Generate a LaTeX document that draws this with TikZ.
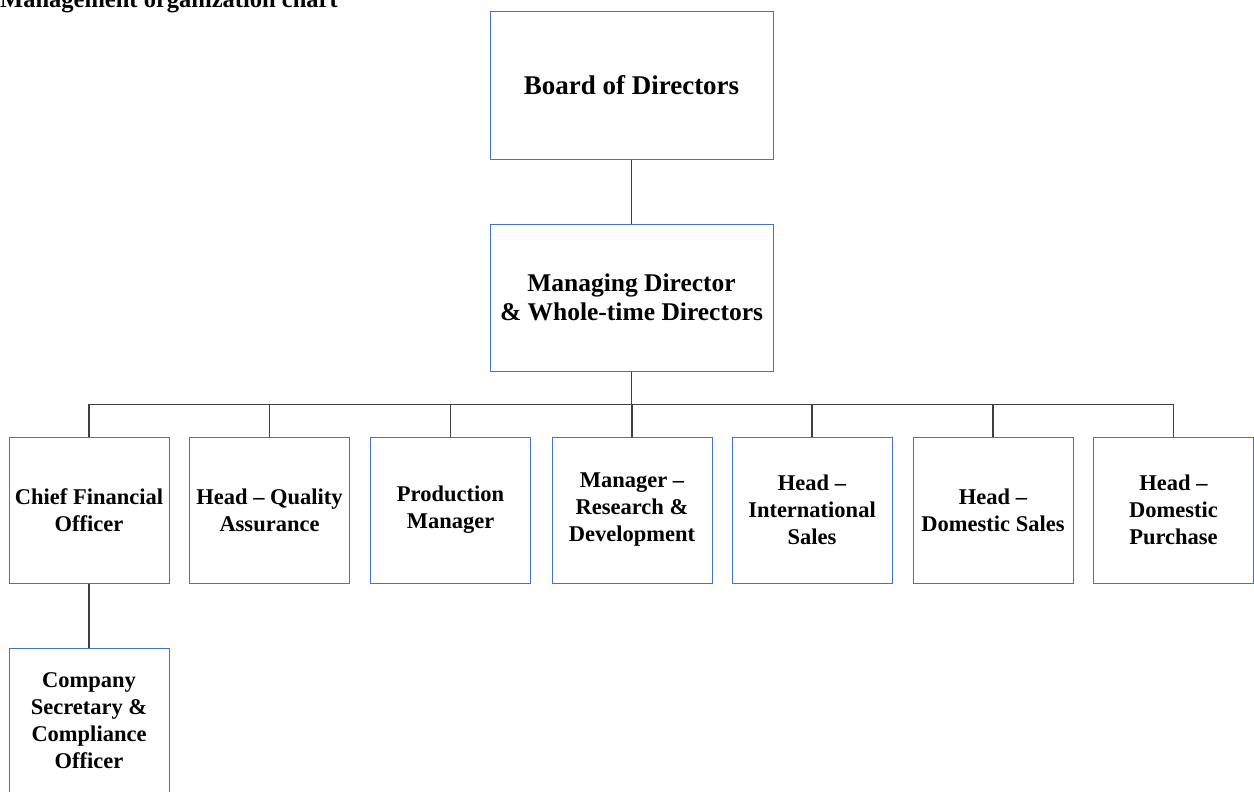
\documentclass[tikz,border=0pt]{standalone}
\usepackage{fontspec}
\setmainfont{Liberation Serif}
\usetikzlibrary{calc}
\definecolor{boxblue}{HTML}{4472C4}
\definecolor{linegray}{HTML}{404040}
\begin{document}
\begin{tikzpicture}[x=1pt,y=-1pt,
  bigbox/.style={draw=boxblue,line width=1pt,minimum width=283pt,minimum height=147pt,
    align=center,inner sep=0pt,font=\bfseries\fontsize{25.5}{29.5}\selectfont},
  smallbox/.style={draw=boxblue,line width=1pt,minimum width=160pt,minimum height=146pt,
    align=center,inner sep=0pt,font=\bfseries\fontsize{22.5}{27}\selectfont},
  conn/.style={draw=linegray,line width=1.4pt}]
\useasboundingbox (0,0) rectangle (1254,792);
\node[anchor=base west,inner sep=0pt,font=\bfseries\fontsize{24.5}{29}\selectfont] (title) at (0,8) {Management organization chart};
\node[bigbox,font=\bfseries\fontsize{27}{31}\selectfont] (bod) at (631.5,85.5) {Board of Directors};
\node[bigbox] (md) at (631.5,297.5) {Managing Director\\\& Whole-time Directors};
\node[smallbox] (cfo) at (89,510) {Chief Financial\\Officer};
\node[smallbox] (qa) at (269.5,510) {Head -- Quality\\Assurance};
\node[smallbox] (pm) at (450.5,510) {Production\\Manager};
\node[smallbox] (rd) at (632,510) {Manager --\\Research \&\\Development};
\node[smallbox] (is) at (812,510) {Head --\\International\\Sales};
\node[smallbox] (ds) at (993,510) {Head --\\Domestic Sales};
\node[smallbox] (dp) at (1173.5,510) {Head --\\Domestic\\Purchase};
\node[smallbox] (cs) at (89,721) {Company\\Secretary \&\\Compliance\\Officer};
\coordinate (bus) at ($(md.south)+(0,33)$);
\draw[conn] (bod.south) -- (md.north);
\draw[conn] (md.south) -- (bus);
\foreach \n in {cfo,qa,pm,rd,is,ds,dp}{
  \draw[conn] (bus) -| (\n.north);
}
\draw[conn] (cfo.south) -- (cs.north);
\end{tikzpicture}
\end{document}
